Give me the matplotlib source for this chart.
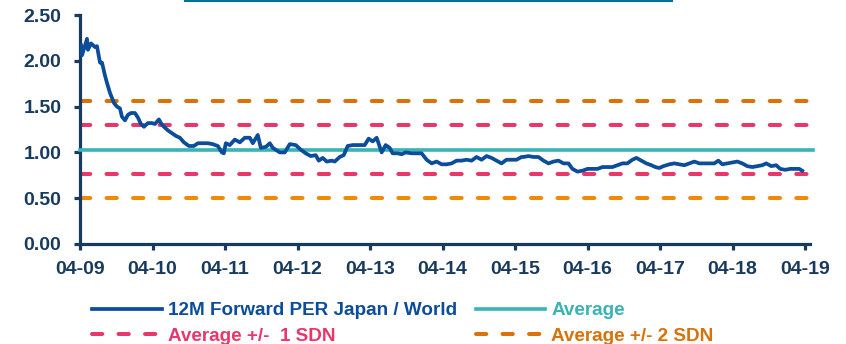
import numpy as np
import matplotlib
matplotlib.use('Agg')
import matplotlib.pyplot as plt
from matplotlib.lines import Line2D

# months elapsed since April 2009
months = [0.17, 0.33, 1.16, 1.32, 1.82, 2.48, 2.81, 3.31, 3.64, 4.13, 4.46, 4.96,
          5.62, 6.12, 6.61, 6.94, 7.44, 7.93, 8.43, 9.09, 9.59, 10.08, 10.58, 11.24,
          11.90, 12.40, 13.06, 13.39, 13.89, 14.55, 15.21, 15.87, 16.53, 17.19, 18.02,
          18.84, 19.51, 20.33, 21.16, 21.98, 22.81, 23.47, 23.80, 24.13, 24.79, 25.62,
          26.45, 27.27, 28.10, 28.60, 29.42, 29.92, 30.75, 31.41, 31.90, 33.06, 33.89,
          34.71, 35.70, 36.53, 37.36, 38.18, 39.01, 39.51, 40.17, 40.83, 41.66, 42.15,
          42.98, 43.64, 44.30, 45.13, 46.28, 47.11, 47.77, 48.43, 49.09, 49.92, 50.58,
          51.24, 51.74, 52.57, 53.23, 53.89, 54.88, 55.71, 56.53, 57.36, 58.19, 59.01,
          59.84, 60.67, 61.49, 62.32, 63.14, 63.97, 64.80, 65.62, 66.45, 67.28, 68.10,
          68.93, 69.76, 70.58, 71.41, 72.24, 73.06, 73.39, 74.22, 75.05, 75.87, 76.70,
          77.53, 78.35, 79.18, 80.01, 80.83, 81.49, 82.32, 83.15, 83.97, 84.80, 85.63,
          86.45, 87.28, 88.10, 88.93, 89.76, 90.58, 91.41, 92.07, 92.90, 93.72, 94.55,
          95.21, 95.87, 96.54, 97.53, 98.35, 99.18, 100.01, 100.83, 101.66, 102.49,
          103.31, 104.14, 104.97, 105.63, 106.29, 107.11, 107.94, 108.77, 109.59,
          110.42, 111.25, 112.07, 112.90, 113.56, 114.39, 115.21, 115.87, 116.70,
          117.53, 118.35, 119.02, 119.51]

per_ratio = [2.17, 2.06, 2.24, 2.12, 2.19, 2.15, 2.16, 1.98, 1.98, 1.84, 1.76, 1.65,
             1.54, 1.50, 1.48, 1.39, 1.35, 1.41, 1.43, 1.43, 1.38, 1.31, 1.28, 1.32,
             1.32, 1.31, 1.36, 1.32, 1.28, 1.24, 1.21, 1.18, 1.16, 1.11, 1.07,
             1.07, 1.10, 1.10, 1.10, 1.09, 1.07, 1.00, 0.99, 1.10, 1.08, 1.14,
             1.11, 1.16, 1.16, 1.10, 1.19, 1.05, 1.06, 1.10, 1.05, 1.00, 1.00,
             1.09, 1.08, 1.03, 0.99, 0.96, 0.97, 0.91, 0.94, 0.90, 0.91, 0.90,
             0.95, 0.97, 1.07, 1.08, 1.08, 1.08, 1.15, 1.12, 1.16, 1.00, 1.08,
             1.05, 0.99, 0.99, 0.98, 1.00, 0.99, 0.99, 0.99, 0.92, 0.88, 0.90,
             0.87, 0.87, 0.88, 0.91, 0.91, 0.92, 0.91, 0.95, 0.92, 0.96, 0.94,
             0.91, 0.88, 0.92, 0.92, 0.92, 0.95, 0.95, 0.96, 0.95, 0.95, 0.91,
             0.88, 0.90, 0.91, 0.88, 0.88, 0.82, 0.79, 0.80, 0.82, 0.82, 0.82,
             0.84, 0.84, 0.84, 0.86, 0.88, 0.88, 0.92, 0.94, 0.91, 0.88, 0.86,
             0.84, 0.83, 0.85, 0.87, 0.88, 0.87, 0.86, 0.88, 0.90, 0.88,
             0.88, 0.88, 0.88, 0.91, 0.87, 0.88, 0.89, 0.90, 0.88,
             0.85, 0.84, 0.85, 0.86, 0.88, 0.85, 0.86, 0.82, 0.81,
             0.82, 0.82, 0.82, 0.80]

average = 1.03
sdn = 0.265

tick_months = [0, 12, 24, 36, 48, 60, 72, 84, 96, 108, 120]
tick_labels = ['04-09', '04-10', '04-11', '04-12', '04-13', '04-14',
               '04-15', '04-16', '04-17', '04-18', '04-19']
y_ticks = [0.0, 0.5, 1.0, 1.5, 2.0, 2.5]

navy = '#173a5e'
blue = '#0b4d9b'
teal = '#3ab3b5'
pink = '#e8386b'
orange_dk = '#d9720a'
orange_lt = '#f08a05'

plt.rcParams['font.family'] = ['Liberation Sans', 'DejaVu Sans']
plt.rcParams['font.weight'] = 'bold'
plt.rcParams['lines.scale_dashes'] = False

fig = plt.figure(figsize=(8.46, 3.44), dpi=100)
ax = fig.add_axes([80 / 846, 1 - 244 / 344, 730 / 846, 229 / 344])

dash = (7.4, 11.7)
xl = (0, 120.8)
ax.plot(xl, [average + 2 * sdn] * 2, color=orange_dk, lw=2.9, dashes=dash,
        dash_capstyle='round', label='Average +/- 2 SDN', zorder=2)
ax.plot(xl, [average - 2 * sdn] * 2, color=orange_lt, lw=2.9, dashes=dash,
        dash_capstyle='round', zorder=2)
ax.plot(xl, [average + sdn] * 2, color=pink, lw=2.9, dashes=dash,
        dash_capstyle='round', label='Average +/-  1 SDN', zorder=2)
ax.plot(xl, [average - sdn] * 2, color=pink, lw=2.9, dashes=dash,
        dash_capstyle='round', zorder=2)
ax.plot([0, 121.3], [average] * 2, color=teal, lw=2.6, label='Average',
        zorder=3, clip_on=False)
ax.plot(months, per_ratio, color=blue, lw=2.7,
        label='12M Forward PER Japan / World', zorder=4)

ax.set_xlim(*xl)
ax.set_ylim(0, 2.5)
ax.set_xticks(tick_months)
ax.set_xticklabels(tick_labels)
ax.set_yticks(y_ticks)
ax.set_yticklabels(['%.2f' % v for v in y_ticks])

for s in ['top', 'right']:
    ax.spines[s].set_visible(False)
for s in ['left', 'bottom']:
    ax.spines[s].set_color(navy)
    ax.spines[s].set_linewidth(2.3)
ax.tick_params(axis='both', colors=navy, width=2.3, length=4.5,
               labelsize=14, direction='out')
ax.tick_params(axis='x', pad=8)
ax.tick_params(axis='y', pad=9)

# legend fills column by column: series, 1 SDN | average, 2 SDN
handles, labels = ax.get_legend_handles_labels()
order = [3, 1, 2, 0]
leg = fig.legend([handles[i] for i in order], [labels[i] for i in order],
                 loc='upper left', bbox_to_anchor=(92 / 846, 1 - 302 / 344),
                 ncol=2, frameon=False, fontsize=13.6, handlelength=3.7,
                 handletextpad=0.3, columnspacing=1.0, labelspacing=0.45,
                 borderpad=0, borderaxespad=0, labelcolor='linecolor')

# thin rule along the top edge
fig.add_artist(Line2D([185 / 846, 672 / 846], [0.998, 0.998],
                      transform=fig.transFigure, color='#0070a0', lw=1.5))

fig.savefig('out.png', dpi=100)
